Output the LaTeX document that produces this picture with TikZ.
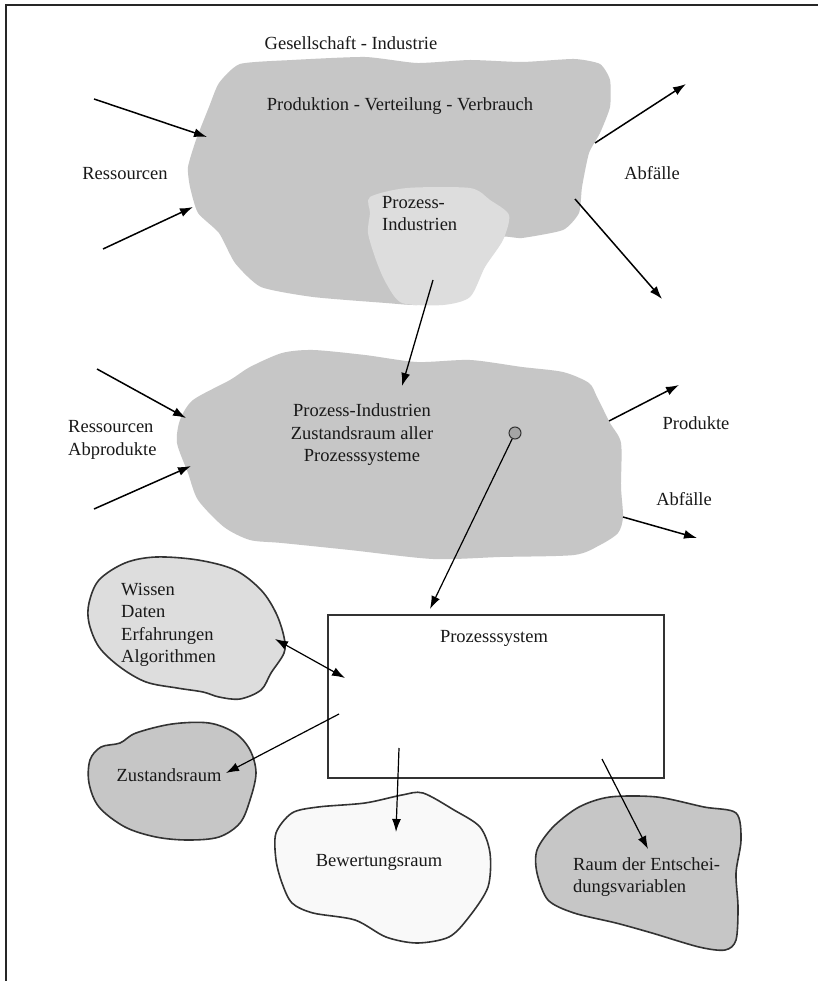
\documentclass[tikz,border=0pt]{standalone}
\usepackage{fontspec}
\setmainfont{Liberation Serif}
\usetikzlibrary{arrows.meta}
\definecolor{blobdark}{RGB}{198,198,198}
\definecolor{bloblight}{RGB}{221,221,221}
\definecolor{blobwhite}{RGB}{249,249,249}
\definecolor{dotfill}{RGB}{165,165,165}
\begin{document}
\begin{tikzpicture}[x=1pt,y=-1pt,
  lbl/.style={inner sep=0pt,font=\fontsize{18.5}{22.5}\selectfont,text=black!90},
  flow/.style={line width=1.5pt,-{Latex[length=13pt,width=9pt]}},
  bflow/.style={line width=1.3pt,{Latex[length=13pt,width=9pt]}-{Latex[length=13pt,width=9pt]}},
  blobline/.style={draw=black!80,line width=1.6pt}]
\useasboundingbox (0,0) rectangle (818,981);
\fill[white] (0,0) rectangle (818,981);
% frame (left and top edges)
\draw[line width=2pt,black!85] (6,981) -- (6,5) -- (818,5);

% ---------- top blob ----------
\fill[blobdark] plot[smooth cycle,tension=0.35] coordinates {
 (240,64) (292,60) (365,57) (417,63) (470,60) (522,62) (574,59) (600,64) (610,80)
 (610,107) (600,133) (589,153) (582,187) (579,213) (563,230) (522,238) (500,238)
 (480,273) (459,300) (417,305) (386,303) (313,297) (261,287) (235,263) (219,233)
 (198,213) (190,187) (188,167) (196,140) (209,107) (219,83)};
\fill[bloblight] plot[smooth cycle,tension=0.45] coordinates {
 (370,197) (407,188) (470,188) (490,200) (509,215) (503,240) (485,267) (470,297)
 (443,305) (402,303) (386,283) (376,260) (368,233) (370,213)};

\node[lbl] (gi) at (351,43) {Gesellschaft - Industrie};
\node[lbl] (pvv) at (400,106) {Produktion - Verteilung - Verbrauch};
\node[lbl] (res1) at (125,174) {Ressourcen};
\node[lbl] (abf1) at (652,173) {Abfälle};
\node[lbl,align=left,anchor=north west] (pi) at (382,196) {Prozess-\\Industrien};

\coordinate (a1s) at (94,99);   \coordinate (a1e) at (207,137);
\coordinate (a2s) at (103,249); \coordinate (a2e) at (193,207);
\coordinate (a3s) at (595,143); \coordinate (a3e) at (686,84);
\coordinate (a4s) at (575,199); \coordinate (a4e) at (662,299);
\draw[flow] (a1s) -- (a1e);
\draw[flow] (a2s) -- (a2e);
\draw[flow] (a3s) -- (a3e);
\draw[flow] (a4s) -- (a4e);

% ---------- middle blob ----------
\fill[blobdark] plot[smooth cycle,tension=0.45] coordinates {
 (250,367) (282,353) (313,350) (365,355) (417,362) (470,360) (522,367) (563,372)
 (589,383) (597,397) (610,423) (621,443) (621,487) (623,517) (618,533) (600,545)
 (574,555) (500,557) (433,559) (350,550) (282,543) (250,540) (224,527) (198,500)
 (188,473) (177,443) (180,420) (193,400) (230,380)};

\coordinate (pis) at (433,280); \coordinate (pie) at (402,386);
\draw[flow,line width=1.3pt] (pis) -- (pie);

\node[lbl,align=center] (pz) at (362,435) {Prozess-Industrien\\Zustandsraum aller\\Prozesssysteme};
\node[lbl,align=left,anchor=west] (ra) at (68,440) {Ressourcen\\Abprodukte};
\node[lbl] (prod) at (696,423) {Produkte};
\node[lbl] (abf2) at (684,499) {Abfälle};

\coordinate (b1s) at (97,369);  \coordinate (b1e) at (186,418);
\coordinate (b2s) at (94,509);  \coordinate (b2e) at (191,466);
\coordinate (b3s) at (609,421); \coordinate (b3e) at (679,385);
\coordinate (b4s) at (623,517); \coordinate (b4e) at (697,538);
\draw[flow] (b1s) -- (b1e);
\draw[flow] (b2s) -- (b2e);
\draw[flow] (b3s) -- (b3e);
\draw[flow] (b4s) -- (b4e);

% ---------- process system box ----------
\node[draw=black!80,line width=1.5pt,minimum width=336pt,minimum height=163pt,inner sep=0pt,anchor=north west] (box) at (327,614) {};
\node[lbl] (ps) at (494,638) {Prozesssystem};

\node[circle,draw=black!80,fill=dotfill,line width=1pt,minimum size=12pt,inner sep=0pt] (dot) at (515,433) {};
\coordinate (dote) at (430,609);
\draw[flow,line width=1.2pt] (dot) -- (dote);

% ---------- Wissen blob ----------
\draw[blobline,fill=bloblight] plot[smooth cycle,tension=0.55] coordinates {
 (89,603) (99,580) (125,563) (156,557) (198,560) (235,570) (261,590) (276,613)
 (284,637) (284,653) (271,673) (261,690) (240,699) (219,697) (203,692) (177,688)
 (146,682) (120,667) (99,647) (89,623)};
\node[lbl,align=left,anchor=north west] (wis) at (121,583) {Wissen\\Daten\\Erfahrungen\\Algorithmen};
\coordinate (w1) at (275,639); \coordinate (w2) at (345,678);
\draw[bflow,line width=1.2pt] (w1) -- (w2);

% ---------- Zustandsraum blob ----------
\draw[blobline,fill=blobdark] plot[smooth cycle,tension=0.55] coordinates {
 (120,743) (136,733) (172,724) (209,723) (235,733) (250,750) (256,773) (250,800)
 (240,823) (219,837) (188,840) (156,837) (125,827) (99,807) (89,783) (90,760) (101,747)};
\node[lbl] (zr) at (169,775) {Zustandsraum};
\coordinate (z1) at (339,714); \coordinate (z2) at (226,773);
\draw[flow,line width=1.2pt] (z1) -- (z2);

% ---------- Bewertungsraum blob ----------
\draw[blobline,fill=blobwhite] plot[smooth cycle,tension=0.5] coordinates {
 (276,833) (292,813) (318,807) (365,803) (402,795) (423,793) (454,810) (480,827)
 (490,853) (488,887) (469,917) (449,937) (417,943) (386,937) (355,920) (313,913)
 (292,903) (282,883) (276,860)};
\node[lbl] (bw) at (379,862) {Bewertungsraum};
\coordinate (v1) at (399,748); \coordinate (v2) at (396,832);
\draw[flow,line width=1.2pt] (v1) -- (v2);

% ---------- Raum der Entscheidungsvariablen blob ----------
\draw[blobline,fill=blobdark] plot[smooth cycle,tension=0.5] coordinates {
 (537,850) (553,827) (579,807) (610,797) (657,797) (704,807) (736,813) (741,840)
 (736,873) (738,907) (736,940) (725,950) (699,947) (652,933) (616,923) (574,913)
 (548,900) (537,873)};
\node[lbl,align=left,anchor=north west] (rd) at (573,857) {Raum der Entschei-\\dungsvariablen};
\coordinate (r1) at (602,759); \coordinate (r2) at (648,849);
\draw[flow,line width=1.2pt] (r1) -- (r2);
\end{tikzpicture}
\end{document}
